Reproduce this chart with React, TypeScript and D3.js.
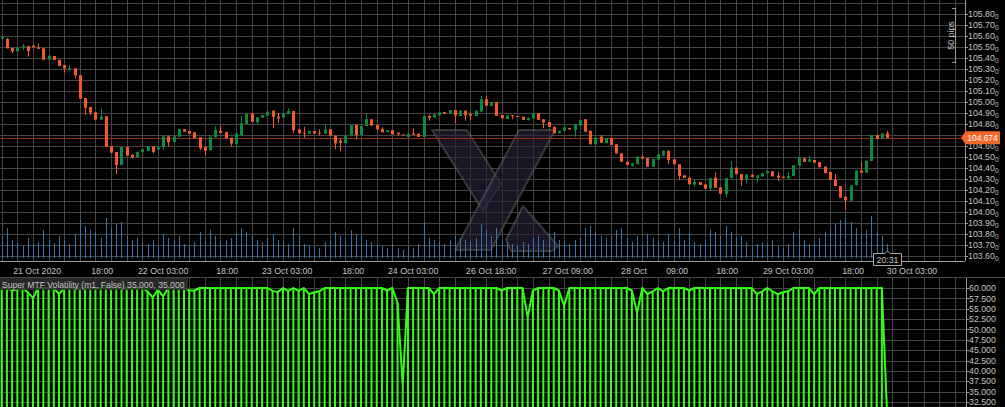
import React, { useEffect } from 'react';
import * as d3 from 'd3';

// ---------- DATA ----------
const opens = [
  105.577, 105.573, 105.491, 105.461, 105.497, 105.509, 105.512, 105.497, 105.488, 105.384,
  105.418, 105.384, 105.336, 105.300, 105.306, 105.245, 105.036, 104.955, 104.906, 104.839,
  104.870, 104.600, 104.545, 104.427, 104.593, 104.521, 104.497, 104.543, 104.554, 104.597,
  104.566, 104.591, 104.688, 104.636, 104.684, 104.754, 104.734, 104.725, 104.679, 104.593,
  104.561, 104.679, 104.739, 104.727, 104.675, 104.618, 104.697, 104.800, 104.897, 104.815,
  104.857, 104.875, 104.921, 104.866, 104.857, 104.891, 104.918, 104.752, 104.721, 104.712,
  104.736, 104.721, 104.712, 104.752, 104.694, 104.648, 104.625, 104.697, 104.791, 104.700,
  104.782, 104.843, 104.791, 104.754, 104.727, 104.743, 104.721, 104.706, 104.682, 104.715,
  104.712, 104.682, 104.873, 104.857, 104.879, 104.909, 104.894, 104.927, 104.873, 104.921,
  104.888, 104.873, 104.912, 105.024, 104.964, 105.000, 104.882, 104.845, 104.882, 104.873,
  104.866, 104.834, 104.852, 104.897, 104.843, 104.818, 104.775, 104.715, 104.739, 104.764,
  104.745, 104.785, 104.843, 104.739, 104.615, 104.684, 104.625, 104.673, 104.615, 104.533,
  104.457, 104.421, 104.434, 104.503, 104.491, 104.412, 104.475, 104.512, 104.557, 104.479,
  104.434, 104.333, 104.312, 104.248, 104.273, 104.252, 104.215, 104.312, 104.224, 104.166,
  104.309, 104.403, 104.345, 104.297, 104.339, 104.309, 104.324, 104.352, 104.370, 104.330,
  104.321, 104.303, 104.327, 104.421, 104.488, 104.457, 104.473, 104.455, 104.412, 104.364,
  104.291, 104.236, 104.139, 104.103, 104.243, 104.376, 104.357, 104.464, 104.700, 104.664,
  104.715,
];

const closes = [
  105.591, 105.488, 105.461, 105.497, 105.512, 105.463, 105.497, 105.484, 105.384, 105.421,
  105.382, 105.327, 105.306, 105.309, 105.243, 105.030, 104.948, 104.903, 104.839, 104.866,
  104.593, 104.539, 104.427, 104.593, 104.512, 104.497, 104.548, 104.570, 104.597, 104.545,
  104.588, 104.688, 104.634, 104.688, 104.754, 104.730, 104.712, 104.670, 104.579, 104.557,
  104.684, 104.745, 104.718, 104.670, 104.621, 104.715, 104.806, 104.891, 104.821, 104.861,
  104.882, 104.912, 104.866, 104.852, 104.897, 104.918, 104.745, 104.715, 104.712, 104.736,
  104.712, 104.715, 104.752, 104.694, 104.625, 104.630, 104.697, 104.791, 104.700, 104.782,
  104.843, 104.785, 104.752, 104.725, 104.745, 104.706, 104.706, 104.703, 104.712, 104.703,
  104.682, 104.873, 104.855, 104.888, 104.906, 104.894, 104.927, 104.879, 104.921, 104.879,
  104.875, 104.921, 105.024, 104.966, 105.000, 104.873, 104.852, 104.879, 104.873, 104.866,
  104.839, 104.857, 104.897, 104.836, 104.815, 104.775, 104.715, 104.739, 104.770, 104.752,
  104.797, 104.836, 104.730, 104.615, 104.679, 104.630, 104.673, 104.609, 104.533, 104.457,
  104.427, 104.443, 104.503, 104.485, 104.412, 104.482, 104.524, 104.557, 104.473, 104.434,
  104.327, 104.309, 104.252, 104.273, 104.245, 104.212, 104.309, 104.221, 104.166, 104.309,
  104.403, 104.345, 104.291, 104.342, 104.318, 104.333, 104.352, 104.373, 104.324, 104.312,
  104.309, 104.327, 104.427, 104.494, 104.455, 104.479, 104.448, 104.406, 104.352, 104.291,
  104.236, 104.130, 104.106, 104.243, 104.376, 104.357, 104.466, 104.700, 104.664, 104.715,
  104.674,
];

// [candle index, high price] where the upper wick extends beyond the body
const upperWicks: [number, number][] = [
  [0, 105.600], [1, 105.580], [4, 105.527], [7, 105.533], [13, 105.336], [19, 104.939],
  [41, 104.782], [42, 104.785], [46, 104.873], [53, 104.900], [55, 104.943], [58, 104.775],
  [61, 104.752], [62, 104.791], [65, 104.670], [70, 104.897], [73, 104.770], [79, 104.761],
  [82, 104.882], [90, 104.912], [92, 105.054], [93, 105.054], [115, 104.700], [123, 104.512],
  [133, 104.297], [137, 104.361], [140, 104.464], [149, 104.366], [151, 104.366], [155, 104.509],
  [160, 104.345], [165, 104.457], [170, 104.739],
];

// [candle index, low price] where the lower wick extends beyond the body
const lowerWicks: [number, number][] = [
  [0, 105.573], [2, 105.443], [4, 105.472], [5, 105.412], [12, 105.266], [13, 105.284],
  [14, 105.215], [16, 104.882], [17, 104.882], [22, 104.345], [25, 104.488], [29, 104.533],
  [31, 104.564], [32, 104.593], [38, 104.564], [39, 104.518], [44, 104.593], [45, 104.591],
  [49, 104.797], [52, 104.766], [53, 104.809], [56, 104.715], [58, 104.675], [61, 104.697],
  [64, 104.570], [65, 104.554], [68, 104.661], [76, 104.694], [79, 104.700], [82, 104.830],
  [87, 104.806], [89, 104.830], [90, 104.836], [98, 104.843], [104, 104.761], [110, 104.684],
  [121, 104.412], [128, 104.434], [130, 104.291], [133, 104.230], [136, 104.193], [139, 104.134],
  [142, 104.236], [143, 104.261], [145, 104.266], [149, 104.282], [162, 104.018],
];

const volumes = [
  22, 30, 18, 15, 12, 20, 14, 16, 28, 18,
  15, 22, 18, 14, 24, 38, 32, 28, 26, 20,
  40, 30, 34, 36, 22, 18, 20, 16, 14, 18,
  12, 24, 20, 18, 22, 14, 12, 16, 26, 20,
  28, 22, 16, 18, 20, 24, 30, 26, 22, 18,
  16, 20, 24, 18, 16, 14, 30, 22, 14, 12,
  12, 10, 16, 18, 26, 22, 20, 28, 24, 22,
  18, 16, 14, 12, 10, 14, 10, 8, 12, 10,
  14, 36, 20, 18, 16, 14, 18, 22, 20, 18,
  16, 20, 34, 28, 22, 30, 18, 16, 14, 12,
  16, 14, 20, 22, 18, 24, 26, 18, 16, 14,
  18, 20, 30, 32, 26, 22, 20, 22, 28, 30,
  20, 16, 22, 14, 24, 20, 18, 16, 24, 18,
  30, 18, 24, 16, 14, 18, 28, 26, 22, 32,
  26, 20, 22, 16, 12, 14, 16, 14, 18, 12,
  10, 14, 26, 28, 18, 14, 16, 20, 26, 30,
  34, 38, 40, 36, 30, 24, 28, 42, 26, 22, 14,
];

const volatility = [
  60, 60, 59.4, 59.6, 60, 59.0, 57.6, 60, 60, 60,
  60, 58.5, 60, 60, 60, 60, 60, 60, 60, 60,
  60, 60, 60, 60, 60, 60, 60, 60, 59.2, 57.7,
  59.6, 58.0, 60, 60, 60, 60, 59.4, 59.4, 60, 60,
  60, 60, 60, 60, 60, 60, 60, 60, 60, 60,
  60, 60, 59.3, 59.0, 60, 59.3, 60, 59.3, 60, 58.5,
  59.0, 59.2, 60, 60, 60, 60, 60, 60, 60, 60,
  60, 60, 60, 60, 59.4, 60, 56.5, 36.5, 60, 60,
  60, 60, 60, 58.5, 60, 60, 60, 60, 60, 60,
  60, 60, 60, 60, 60, 60, 59.4, 60, 60, 60,
  60, 52.9, 59.4, 60, 60, 60, 60, 59.4, 55.7, 60,
  60, 60, 60, 60, 60, 60, 60, 60, 60, 60,
  60, 59.4, 54.0, 60, 58.5, 59.2, 60, 59.2, 60, 60,
  60, 60, 59.4, 60, 60, 60, 60, 60, 60, 60,
  60, 60, 60, 60, 60, 58.5, 59.2, 60, 59.2, 58.5,
  59.0, 59.2, 60, 60, 60, 60, 58.5, 60, 60, 60,
  60, 60, 60, 60, 60, 60, 60, 60, 60, 60, 30,
];

const priceTicks = [
  103.6, 103.7, 103.8, 103.9, 104.0, 104.1, 104.2, 104.3, 104.4, 104.5, 104.6,
  104.7, 104.8, 104.9, 105.0, 105.1, 105.2, 105.3, 105.4, 105.5, 105.6, 105.7, 105.8,
];
const priceGrid = [...priceTicks, 105.9];
const volTicks = [60, 57.5, 55, 52.5, 50, 47.5, 45, 42.5, 40, 37.5, 35, 32.5];

const timeLabels: { idx: number; text: string }[] = [
  { idx: 6.8, text: '21 Oct 2020' },
  { idx: 19.3, text: '18:00' },
  { idx: 31, text: '22 Oct 03:00' },
  { idx: 43.3, text: '18:00' },
  { idx: 54.8, text: '23 Oct 03:00' },
  { idx: 67.5, text: '18:00' },
  { idx: 79, text: '24 Oct 03:00' },
  { idx: 94, text: '26 Oct 18:00' },
  { idx: 108.7, text: '27 Oct 09:00' },
  { idx: 121.4, text: '28 Oct' },
  { idx: 129.7, text: '09:00' },
  { idx: 139.3, text: '18:00' },
  { idx: 151, text: '29 Oct 03:00' },
  { idx: 163.5, text: '18:00' },
  { idx: 174.8, text: '30 Oct 03:00' },
];

const currentPrice = 104.674;
const lastBarTime = '20:31';
const indicatorTitle = 'Super MTF Volatility (m1, False) 35.000, 35.000';
const pipsLabel = '50 pips';
const pipsTop = 105.855;
const pipsSpan = 0.5;

// ---------- LAYOUT ----------
const W = 1005;
const H = 407;
const plotRight = 965;
const mainBottom = 261;
const indTop = 278;
const FONT = 'Liberation Sans, Arial, sans-serif';
const BULL = '#0b8b3d';
const BEAR = '#f25b27';
const GRID = '#444444';
const TEXT = '#c4c4c4';
const LIME = '#33ff14';
const WM_FILL = 'rgba(40,34,56,0.62)';
const WM_EDGE = 'rgba(100,100,100,0.5)';

export default function App() {
  useEffect(() => {
    document.body.style.margin = '0';
    document.body.style.background = '#000';
  }, []);

  const x = d3.scaleLinear().domain([0, 185]).range([1.7, 1.7 + 5.208 * 185]);
  const y = d3.scaleLinear().domain([103.6, 105.8]).range([256, 14]);
  const yv = d3.scaleLinear().domain([32.5, 60]).range([402, 288]);
  const yVol = d3.scaleLinear().domain([0, 45]).range([258, 213]);

  const hiMap = new Map(upperWicks);
  const loMap = new Map(lowerWicks);
  const candles = opens.map((o, i) => {
    const c = closes[i];
    const hi = Math.max(o, c, hiMap.get(i) ?? -Infinity);
    const lo = Math.min(o, c, loMap.get(i) ?? Infinity);
    return { i, o, c, hi, lo };
  });

  const vGrid = d3.range(0, 186, 3).map((k) => Math.round(x(k)) + 0.5).filter((v) => v < plotRight);
  const cy = y(currentPrice);

  const volLine = d3
    .line<number>()
    .x((_, i) => x(i))
    .y((v) => yv(v));

  const px = (k: number) => Math.round(x(k));

  return (
    <svg
      width={W}
      height={H}
      style={{ position: 'absolute', left: 0, top: 0, display: 'block', background: '#000' }}
      fontFamily={FONT}
    >
      <defs>
        <clipPath id="mainClip">
          <rect x={0} y={0} width={plotRight} height={mainBottom} />
        </clipPath>
        <clipPath id="indClip">
          <rect x={0} y={indTop} width={plotRight + 1} height={H - indTop} />
        </clipPath>
      </defs>
      <rect x={0} y={0} width={W} height={H} fill="#000" />

      {/* ---- main panel grid ---- */}
      <g clipPath="url(#mainClip)">
        {priceGrid.map((p) => (
          <line key={'hg' + p} x1={0} x2={plotRight} y1={Math.round(y(p)) + 0.5} y2={Math.round(y(p)) + 0.5} stroke={GRID} />
        ))}
        {vGrid.map((gx) => (
          <line key={'vg' + gx} x1={gx} x2={gx} y1={0} y2={mainBottom} stroke={GRID} />
        ))}

        {/* watermark */}
        <g>
          <polygon points="432,130 467,130 501,184 483,211" fill={WM_FILL} stroke={WM_EDGE} strokeWidth={2} strokeLinejoin="round" />
          <polygon points="519,130 555,130 491,250 455,250" fill={WM_FILL} stroke={WM_EDGE} strokeWidth={2} strokeLinejoin="round" />
          <polygon points="523,206 558,246 552,251 511,251 506,240" fill={WM_FILL} stroke={WM_EDGE} strokeWidth={2} strokeLinejoin="round" />
        </g>

        {/* volumes */}
        {volumes.map((v, i) => (
          <line key={'v' + i} x1={px(i) + 0.5} x2={px(i) + 0.5} y1={yVol(0)} y2={yVol(v)} stroke="#3a74a8" />
        ))}

        {/* current price line */}
        <line x1={0} x2={plotRight} y1={Math.round(cy) + 0.5} y2={Math.round(cy) + 0.5} stroke="#8c2f14" />

        {/* candles */}
        {candles.map((d) => {
          const col = d.c >= d.o ? BULL : BEAR;
          const cx = px(d.i);
          const top = y(Math.max(d.o, d.c));
          const bot = y(Math.min(d.o, d.c));
          return (
            <g key={'c' + d.i}>
              <line x1={cx + 0.5} x2={cx + 0.5} y1={y(d.hi)} y2={y(d.lo)} stroke={col} />
              <rect x={cx - 1} y={top} width={3} height={Math.max(1, bot - top)} fill={col} />
            </g>
          );
        })}
      </g>

      {/* main borders */}
      <line x1={plotRight + 0.5} x2={plotRight + 0.5} y1={0} y2={mainBottom} stroke="#9a9a9a" />
      <line x1={0} x2={plotRight} y1={mainBottom + 0.5} y2={mainBottom + 0.5} stroke="#9a9a9a" />

      {/* price axis */}
      {priceTicks.map((p) => {
        const ty = y(p);
        if (Math.abs(ty - cy) < 8) return null;
        return (
          <g key={'pt' + p}>
            <line x1={plotRight + 1} x2={plotRight + 3} y1={Math.round(ty) + 0.5} y2={Math.round(ty) + 0.5} stroke="#9a9a9a" />
            <text x={968} y={ty + 3.2} fontSize={8.8} fill={TEXT}>
              {p.toFixed(2)}
              <tspan fontSize={6.5} dy={1.5}>0</tspan>
            </text>
          </g>
        );
      })}

      {/* 50 pips bracket */}
      <g stroke="#9a9a9a" fill="none">
        <line x1={955.5} x2={955.5} y1={y(pipsTop)} y2={y(pipsTop - pipsSpan)} />
        <line x1={952} x2={955.5} y1={y(pipsTop) + 0.5} y2={y(pipsTop) + 0.5} />
        <line x1={952} x2={955.5} y1={y(pipsTop - pipsSpan) - 0.5} y2={y(pipsTop - pipsSpan) - 0.5} />
      </g>
      <text
        x={0}
        y={0}
        transform={`translate(950.5, ${(y(pipsTop) + y(pipsTop - pipsSpan)) / 2}) rotate(-90)`}
        textAnchor="middle"
        dominantBaseline="central"
        fontSize={8.8}
        fill={TEXT}
      >
        {pipsLabel}
      </text>

      {/* current price label */}
      <path
        d={`M961,${cy} L965.5,${cy - 6.5} L1000,${cy - 6.5} L1000,${cy + 6.5} L965.5,${cy + 6.5} Z`}
        fill="#f5662a"
      />
      <text x={982.5} y={cy + 3.2} fontSize={8.4} fill="#ffffff" textAnchor="middle">
        {currentPrice.toFixed(3)}
      </text>

      {/* time axis */}
      {timeLabels.map((t) => (
        <text key={'tl' + t.text + t.idx} x={x(t.idx)} y={273.5} fontSize={8.8} fill={TEXT} textAnchor="middle">
          {t.text}
        </text>
      ))}

      {/* last bar time marker */}
      <g>
        <path
          d={`M${px(170) - 13.5},253.5 L${px(170) - 2},253.5 L${px(170) + 0.5},251 L${px(170) + 3},253.5 L${px(170) + 14.5},253.5 L${px(170) + 14.5},265.5 L${px(170) - 13.5},265.5 Z`}
          fill="#000"
          stroke="#a8a8a8"
        />
        <text x={px(170) + 0.5} y={262.8} fontSize={8.8} fill={TEXT} textAnchor="middle">
          {lastBarTime}
        </text>
      </g>

      {/* separator */}
      <line x1={0} x2={W} y1={277.5} y2={277.5} stroke="#4a4a4a" />

      {/* ---- indicator panel ---- */}
      <g clipPath="url(#indClip)">
        {volTicks.map((v) => (
          <line key={'ig' + v} x1={0} x2={plotRight} y1={Math.round(yv(v)) + 0.5} y2={Math.round(yv(v)) + 0.5} stroke={GRID} />
        ))}
        {vGrid.map((gx) => (
          <line key={'ivg' + gx} x1={gx} x2={gx} y1={indTop} y2={H} stroke={GRID} />
        ))}
        {volatility.map((v, i) => (
          <line key={'ib' + i} x1={x(i)} x2={x(i)} y1={yv(v)} y2={H + 5} stroke={LIME} strokeWidth={2} />
        ))}
        <path d={volLine(volatility) ?? ''} fill="none" stroke={LIME} strokeWidth={2} strokeLinejoin="round" />
      </g>
      <line x1={plotRight + 1.5} x2={plotRight + 1.5} y1={indTop} y2={H} stroke="#9a9a9a" />

      {/* indicator axis */}
      {volTicks.map((v) => (
        <g key={'it' + v}>
          <line x1={plotRight + 2} x2={plotRight + 4} y1={Math.round(yv(v)) + 0.5} y2={Math.round(yv(v)) + 0.5} stroke="#9a9a9a" />
          <text x={969} y={yv(v) + 3.2} fontSize={8.8} fill={TEXT}>
            {v.toFixed(3)}
          </text>
        </g>
      ))}

      {/* indicator title */}
      <rect x={0} y={278} width={188} height={12} fill="#2e2e2e" opacity={0.85} />
      <text x={2} y={287.5} fontSize={8.6} fill={TEXT}>
        {indicatorTitle}
      </text>
    </svg>
  );
}
